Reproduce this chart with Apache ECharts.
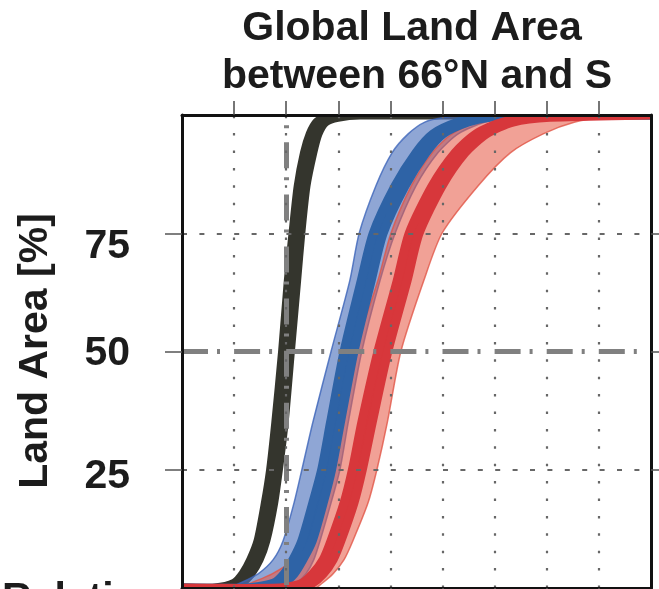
<!DOCTYPE html>
<html>
<head>
<meta charset="utf-8">
<style>
  html, body { margin: 0; padding: 0; background: #ffffff; }
  #chart { width: 659px; height: 589px; }
</style>
<script src="https://cdn.jsdelivr.net/npm/echarts@6/dist/echarts.min.js"></script>
</head>
<body>
<div id="chart"></div>
<script>
// Cumulative land-area curves: for each percentage level, the x position of the
// left (Lo) and right (Hi) edge of each ensemble bundle.
const levels = [0, 1, 3, 6, 10, 18, 25, 35, 50, 65, 75, 85, 92, 96, 98.5, 99.5, 100];

const blackLo = [0.63, 1.00, 1.17, 1.32, 1.46, 1.60, 1.70, 1.80, 1.93, 2.04, 2.13, 2.23, 2.35, 2.46, 2.59, 2.76, 2.94];
const blackHi = [1.05, 1.15, 1.32, 1.48, 1.61, 1.76, 1.85, 1.96, 2.08, 2.20, 2.28, 2.38, 2.51, 2.61, 2.75, 2.99, 3.42];

const blueEnvLo = [0.88, 1.11, 1.46, 1.75, 1.94, 2.15, 2.30, 2.51, 2.86, 3.22, 3.40, 3.72, 4.03, 4.34, 4.66, 5.05, 5.53];
const blueEnvHi = [1.98, 2.19, 2.38, 2.53, 2.65, 2.86, 3.03, 3.19, 3.45, 3.80, 4.09, 4.49, 4.91, 5.30, 5.82, 6.39, 7.26];
const blueCoreLo = [1.21, 1.75, 1.96, 2.13, 2.30, 2.51, 2.68, 2.85, 3.11, 3.44, 3.67, 4.09, 4.49, 4.82, 5.30, 5.72, 6.10];
const blueCoreHi = [1.65, 1.94, 2.15, 2.32, 2.50, 2.71, 2.87, 3.04, 3.30, 3.63, 3.86, 4.28, 4.68, 5.01, 5.49, 5.91, 6.97];

const redEnvLo = [1.11, 1.31, 1.73, 2.15, 2.40, 2.69, 2.84, 3.03, 3.32, 3.76, 4.01, 4.40, 4.80, 5.18, 5.66, 6.20, 6.87];
const redEnvHi = [2.55, 2.69, 2.90, 3.11, 3.28, 3.57, 3.74, 3.94, 4.20, 4.64, 4.99, 5.68, 6.30, 6.93, 7.54, 8.12, 8.79];
const redCoreLo = [1.88, 2.30, 2.51, 2.71, 2.86, 3.11, 3.27, 3.45, 3.76, 4.13, 4.36, 4.80, 5.24, 5.64, 6.16, 6.87, 7.64];
const redCoreHi = [2.27, 2.50, 2.71, 2.90, 3.05, 3.30, 3.46, 3.65, 3.95, 4.32, 4.55, 4.99, 5.43, 5.84, 6.35, 7.06, 9.08];

// Axis ticks and reference lines
const xTicks = [1, 2, 3, 4, 5, 6, 7, 8];
const yTicks = [25, 50, 75];
const yDotted = [25, 75];
const refY = 50;
const refX = 2;
const xRange = [0, 9];
const yRange = [0, 100];

const FONT = "'Liberation Sans', Arial, Helvetica, sans-serif";

function band(name, lo, hi, fill, stroke, width, z) {
  return {
    type: 'custom',
    name: name,
    clip: true,
    z: z,
    silent: true,
    data: [0],
    renderItem: function (params, api) {
      const pts = [api.coord([xRange[0], yRange[0]])];
      for (let i = 0; i < levels.length; i++) pts.push(api.coord([lo[i], levels[i]]));
      pts.push(api.coord([xRange[1], yRange[1]]));
      for (let i = levels.length - 1; i >= 0; i--) pts.push(api.coord([hi[i], levels[i]]));
      return {
        type: 'polygon',
        shape: { points: pts, smooth: 0.25 },
        style: { fill: fill, stroke: stroke, lineWidth: width, lineJoin: 'round' }
      };
    }
  };
}

const dotGrey = '#676767';
const refGrey = '#808080';
const dashDot = [26, 9, 3, 14.1];

const chart = echarts.init(document.getElementById('chart'), null, { renderer: 'canvas' });

const axisCommon = {
  type: 'value',
  splitLine: { show: false },
  axisLine: { show: true, onZero: false, lineStyle: { color: '#111111', width: 3 } },
  z: 10
};

const labelStyle = { fontFamily: FONT, fontWeight: 'bold', fontSize: 41, color: '#1c1c1c' };

chart.setOption({
  animation: false,
  backgroundColor: '#ffffff',
  grid: { left: 182, top: 115, width: 469, height: 473, containLabel: false },
  xAxis: [
    Object.assign({}, axisCommon, {
      position: 'bottom', min: xRange[0], max: xRange[1], interval: 1,
      axisLabel: { show: false },
      axisTick: { show: true, length: 12, customValues: xTicks, lineStyle: { color: '#555555', width: 1.5 } }
    }),
    Object.assign({}, axisCommon, {
      position: 'top', min: xRange[0], max: xRange[1], interval: 1,
      axisLabel: { show: false },
      axisTick: { show: true, length: 14, customValues: xTicks, lineStyle: { color: '#4a4a4a', width: 1.5 } }
    })
  ],
  yAxis: [
    Object.assign({}, axisCommon, {
      position: 'left', min: yRange[0], max: yRange[1], interval: 25,
      axisTick: { show: true, length: 17, customValues: yTicks, lineStyle: { color: '#555555', width: 1.5 } },
      axisLabel: Object.assign({
        show: true, customValues: yTicks, margin: 52,
        formatter: function (v) { return '{t' + v + '|' + v + '}'; },
        rich: {
          t75: Object.assign({ padding: [26, 0, 0, 0] }, labelStyle),
          t50: Object.assign({ padding: [4, 0, 0, 0] }, labelStyle),
          t25: Object.assign({ padding: [14, 0, 0, 0] }, labelStyle)
        }
      }, labelStyle)
    }),
    Object.assign({}, axisCommon, {
      position: 'right', min: yRange[0], max: yRange[1], interval: 25,
      axisLabel: { show: false },
      axisTick: { show: true, length: 14, customValues: yTicks, lineStyle: { color: '#555555', width: 1.5 } }
    })
  ],
  graphic: [
    { type: 'text', style: { text: 'Global Land Area', x: 412, y: 29, align: 'center', verticalAlign: 'middle', font: 'bold 41px ' + FONT, fill: '#1c1c1c' } },
    { type: 'text', style: { text: 'between 66°N and S', x: 417, y: 77, align: 'center', verticalAlign: 'middle', font: 'bold 41px ' + FONT, fill: '#1c1c1c' } },
    { type: 'text', x: 36, y: 351, rotation: Math.PI / 2, style: { text: 'Land Area [%]', x: 0, y: 0, align: 'center', verticalAlign: 'middle', font: 'bold 41px ' + FONT, fill: '#1c1c1c' } },
    { type: 'text', style: { text: 'Relative', x: 2, y: 579, align: 'left', verticalAlign: 'top', font: 'bold 41px ' + FONT, fill: '#1c1c1c' } }
  ],
  series: [
    {
      type: 'line', name: 'reference x', data: [], z: 1, silent: true,
      xAxisIndex: 0, yAxisIndex: 0,
      markLine: {
        silent: true, symbol: 'none', animation: false,
        label: { show: false },
        data: [
          [
            { coord: [refX, yRange[1]], lineStyle: { color: refGrey, width: 5, type: dashDot, dashOffset: 24.8, cap: 'butt' } },
            { coord: [refX, yRange[0]] }
          ]
        ]
      }
    },
    band('black', blackLo, blackHi, '#34352d', '#34352d', 9, 2),
    band('blue spread', blueEnvLo, blueEnvHi, 'rgba(80,115,190,0.64)', 'rgba(60,100,185,0.8)', 1.5, 2),
    band('red spread', redEnvLo, redEnvHi, 'rgba(230,90,70,0.57)', 'rgba(225,85,70,0.8)', 1.5, 2),
    band('blue', blueCoreLo, blueCoreHi, '#2e63a6', '#2e63a6', 9, 2),
    band('red', redCoreLo, redCoreHi, '#d7373b', '#d7373b', 9, 2),
    {
      type: 'line', name: 'grid', data: [], z: 5, silent: true,
      xAxisIndex: 0, yAxisIndex: 0,
      markLine: {
        silent: true, symbol: 'none', animation: false,
        label: { show: false },
        data: xTicks.map(function (v) {
          return { xAxis: v, lineStyle: { color: dotGrey, width: 2.2, type: [2.5, 14.9] } };
        }).concat(yDotted.map(function (v) {
          return { yAxis: v, lineStyle: { color: dotGrey, width: 1.8, type: [5, 12.4] } };
        }))
      }
    },
    {
      type: 'line', name: 'reference y', data: [], z: 6, silent: true,
      xAxisIndex: 0, yAxisIndex: 0,
      markLine: {
        silent: true, symbol: 'none', animation: false,
        label: { show: false },
        data: [
          { yAxis: refY, lineStyle: { color: refGrey, width: 5, type: dashDot, dashOffset: 0, cap: 'butt' } }
        ]
      }
    }
  ]
});
</script>
</body>
</html>
